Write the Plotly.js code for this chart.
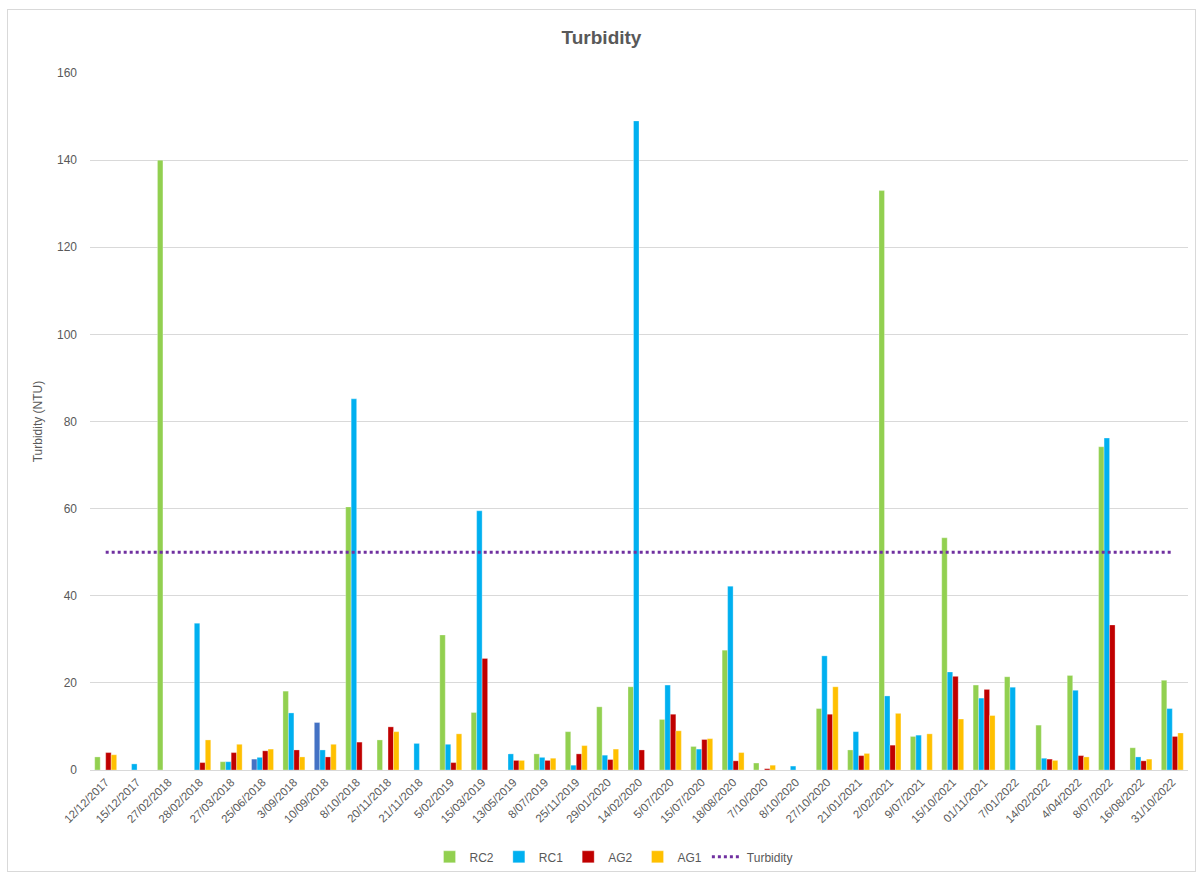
<!DOCTYPE html>
<html>
<head>
<meta charset="utf-8">
<script src="https://cdn.plot.ly/plotly-3.0.1.min.js"></script>
<style>
  html, body { margin: 0; padding: 0; background: #ffffff; }
  #wrap { position: relative; width: 1203px; height: 877px; }
  #chart { position: absolute; left: 0; top: 0; width: 1203px; height: 877px; }
  #frame { position: absolute; left: 7px; top: 9px; width: 1187px; height: 861px;
           border: 1px solid #d9d9d9; pointer-events: none; }
</style>
</head>
<body>
<div id="wrap">
  <div id="chart"></div>
  <div id="frame"></div>
</div>
<script>
// Sampling dates
const dates = [
  "12/12/2017", "15/12/2017", "27/02/2018", "28/02/2018", "27/03/2018",
  "25/06/2018", "3/09/2018", "10/09/2018", "8/10/2018", "20/11/2018",
  "21/11/2018", "5/02/2019", "15/03/2019", "13/05/2019", "8/07/2019",
  "25/11/2019", "29/01/2020", "14/02/2020", "5/07/2020", "15/07/2020",
  "18/08/2020", "7/10/2020", "8/10/2020", "27/10/2020", "21/01/2021",
  "2/02/2021", "9/07/2021", "15/10/2021", "01/11/2021", "7/01/2022",
  "14/02/2022", "4/04/2022", "8/07/2022", "16/08/2022", "31/10/2022"
];

// Turbidity readings (NTU) per site; null = not sampled
const rc2 = [3.0, null, 140, null, 1.9, 2.5, 18.1, 10.9, 60.4, 6.9,
             null, 31.0, 13.2, null, 3.7, 8.8, 14.5, 19.1, 11.6, 5.4,
             27.5, 1.6, null, 14.1, 4.6, 133, 7.7, 53.3, 19.5, 21.4,
             10.3, 21.7, 74.2, 5.1, 20.6];
const rc1 = [null, 1.4, null, 33.7, 1.9, 2.9, 13.1, 4.6, 85.2, null,
             6.1, 5.9, 59.5, 3.7, 2.9, 1.1, 3.4, 149, 19.5, 4.8,
             42.2, null, 0.9, 26.2, 8.8, 17.0, 8.0, 22.5, 16.5, 19.0,
             2.7, 18.3, 76.2, 3.0, 14.1];
const ag2 = [4.0, null, null, 1.7, 4.0, 4.4, 4.6, 3.0, 6.4, 9.9,
             null, 1.7, 25.6, 2.2, 2.2, 3.7, 2.4, 4.6, 12.8, 7.0,
             2.1, 0.3, null, 12.8, 3.3, 5.7, null, 21.5, 18.5, null,
             2.5, 3.3, 33.3, 2.1, 7.7];
const ag1 = [3.5, null, null, 6.9, 5.9, 4.8, 3.0, 5.9, null, 8.8,
             null, 8.3, null, 2.2, 2.7, 5.6, 4.8, null, 9.0, 7.2,
             4.0, 1.1, null, 19.1, 3.8, 13.0, 8.3, 11.7, 12.5, null,
             2.2, 3.0, null, 2.5, 8.5];

// Guideline value (NTU)
const turbidityLimit = dates.map(() => 50);

// RC2 samples highlighted in a different colour
const rc2Highlighted = ["25/06/2018", "10/09/2018"];

const colRC2 = "#92d050", colRC1 = "#00b0f0", colAG2 = "#c00000",
      colAG1 = "#ffc000", colHighlight = "#4472c4", colLimit = "#7030a0";

const barLine = { color: "rgba(255,255,255,0.6)", width: 0.5 };

const traces = [
  { type: "bar", name: "RC2", x: dates, y: rc2,
    marker: { color: dates.map(d => rc2Highlighted.includes(d) ? colHighlight : colRC2), line: barLine } },
  { type: "bar", name: "RC1", x: dates, y: rc1, marker: { color: colRC1, line: barLine } },
  { type: "bar", name: "AG2", x: dates, y: ag2, marker: { color: colAG2, line: barLine } },
  { type: "bar", name: "AG1", x: dates, y: ag1, marker: { color: colAG1, line: barLine } },
  { type: "scatter", mode: "lines", name: "Turbidity", x: dates, y: turbidityLimit,
    line: { color: colLimit, width: 3, dash: "dot" } }
];

const fontFam = "Liberation Sans, Arial, sans-serif";

const layout = {
  width: 1203, height: 877,
  margin: { l: 90, r: 15, t: 73, b: 107 },
  paper_bgcolor: "#ffffff", plot_bgcolor: "#ffffff",
  font: { family: fontFam, color: "#595959", size: 12 },
  title: { text: "<b>Turbidity</b>", x: 0.5, xanchor: "center", y: 0.957, yanchor: "middle",
           font: { family: fontFam, size: 19, color: "#595959" } },
  barmode: "group", bargap: 0.3, bargroupgap: 0,
  xaxis: {
    type: "category", tickangle: -45, tickfont: { size: 11.5, color: "#595959" },
    showgrid: false, showline: true, linecolor: "#d9d9d9", linewidth: 1,
    ticks: "", automargin: false
  },
  yaxis: {
    range: [0, 160], dtick: 20, showgrid: true, gridcolor: "#d9d9d9", gridwidth: 1,
    zeroline: false, showline: false, ticks: "", ticklen: 0, ticklabelstandoff: 12,
    tickfont: { size: 12, color: "#595959" },
    title: { text: "Turbidity (NTU)", font: { size: 12, color: "#595959" }, standoff: 11 },
    automargin: false
  },
  legend: {
    orientation: "h", x: 0.51, xref: "container", xanchor: "center",
    y: 0.023, yref: "container", yanchor: "middle",
    font: { size: 12, color: "#595959" }, itemwidth: 30,
    traceorder: "normal"
  },
  showlegend: true
};

Plotly.newPlot("chart", traces, layout, { displayModeBar: false, staticPlot: true });
</script>
</body>
</html>
